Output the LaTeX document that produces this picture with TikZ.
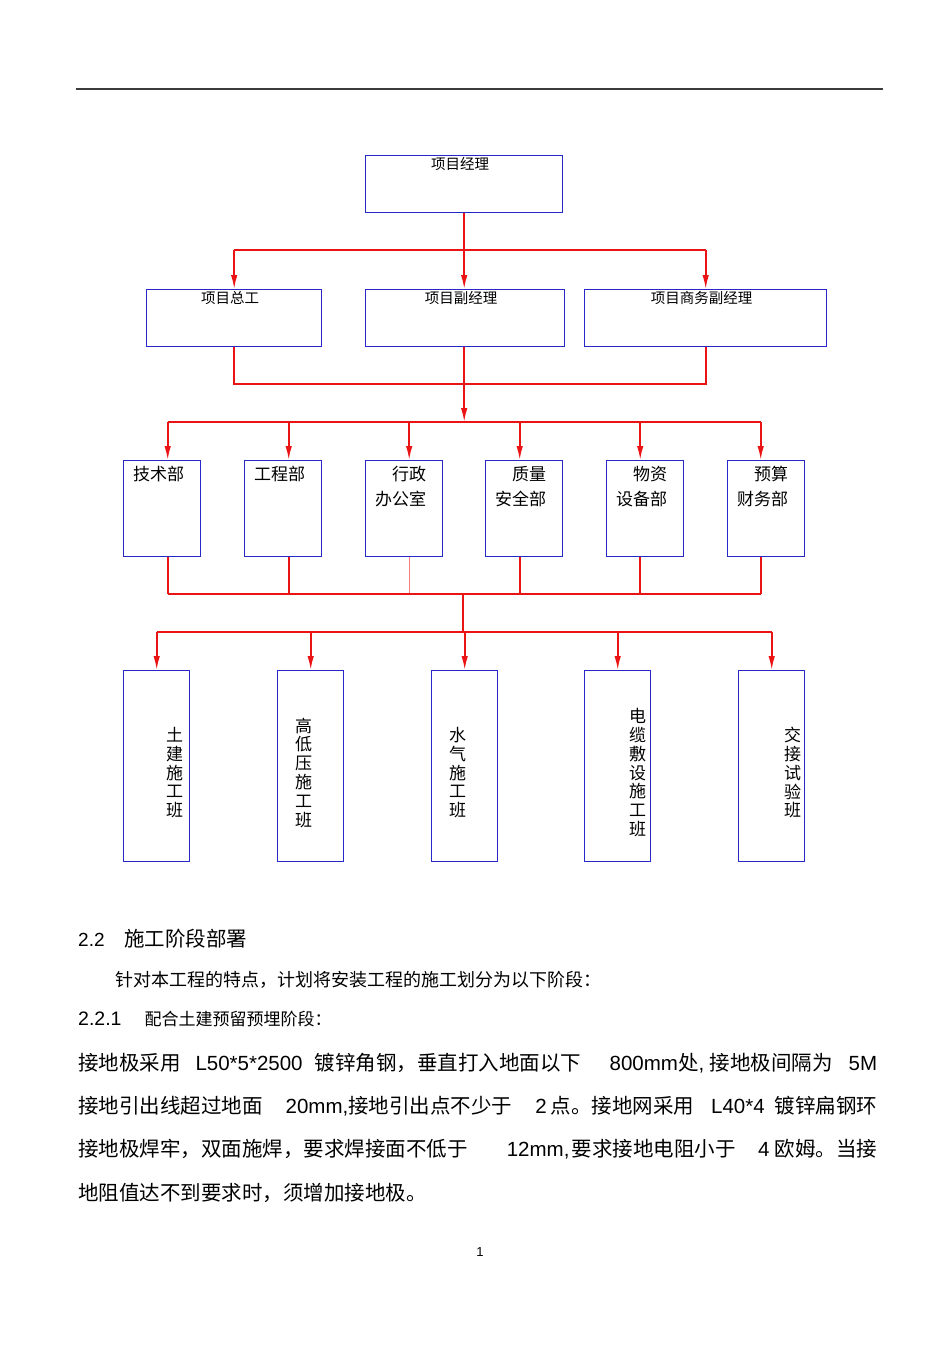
\documentclass[tikz,border=0pt]{standalone}
\usepackage{fontspec}
\setmainfont{Liberation Sans}
\newfontfamily\cjk{Noto Sans CJK SC}
\usetikzlibrary{arrows.meta}

\definecolor{boxblue}{RGB}{40,40,200}
\definecolor{linkred}{RGB}{235,20,20}
\definecolor{rulegray}{RGB}{60,60,60}

\newcommand\zh[1]{{\cjk #1}}

\tikzset{
  box/.style={draw=boxblue, line width=1.4pt, inner sep=0pt, anchor=north west},
  link/.style={draw=linkred, line width=1.7pt},
  thinlink/.style={draw=linkred!55, line width=1pt},
  arr/.style={link, -{Latex[length=14pt,width=6.5pt]}},
  tlbl/.style={font=\cjk\fontsize{14.5}{16}\selectfont, inner sep=0pt, anchor=north, xshift=-4pt, yshift=-2.5pt},
  dlbl/.style={font=\cjk\fontsize{17}{25}\selectfont, inner sep=0pt, align=left, anchor=north west, xshift=10pt, yshift=-6pt},
  vlbl/.style={font=\cjk\fontsize{17}{18.8}\selectfont, inner sep=0pt, align=center},
  body/.style={inner sep=0pt, anchor=base west, font=\fontsize{20.5}{24}\selectfont}
}

\begin{document}
\begin{tikzpicture}[x=1pt,y=-1pt]
  % 页面范围
  \useasboundingbox (0,0) rectangle (950,1345);

  % 绘制页眉横线
  \draw[rulegray, line width=1.2pt] (76,89) -- (883,89);

  % 第一层：项目经理
  \node[box, minimum width=197pt, minimum height=57pt, label={[tlbl, xshift=0pt]north:项目经理}] (pm) at (365,155) {};

  % 第二层
  \node[box, minimum width=175pt, minimum height=57pt, label={[tlbl]north:项目总工}] (zg) at (146,289) {};
  \node[box, minimum width=199pt, minimum height=57pt, label={[tlbl]north:项目副经理}] (fj) at (365,289) {};
  \node[box, minimum width=242pt, minimum height=57pt, label={[tlbl]north:项目商务副经理}] (sw) at (584,289) {};

  % 第三层：各部门
  \foreach \n/\x/\txt in {js/123/技术部, gc/244/工程部, xz/365/{　行政\\办公室},
                          zl/485/{　质量\\安全部}, wz/606/{　物资\\设备部}, ys/727/{　预算\\财务部}}
    \node[box, minimum width=77pt, minimum height=96pt, label={[dlbl]north west:{\txt}}] (\n) at (\x,460) {};

  % 第四层：各班组（竖排文字）
  \foreach \n/\x/\dx/\txt in {tj/123/18/{土\\建\\施\\工\\班}, gd/277/-7/{高\\低\\压\\施\\工\\班},
                              sq/431/-7/{水\\气\\施\\工\\班}, dl/584/20/{电\\缆\\敷\\设\\施\\工\\班},
                              jj/738/21/{交\\接\\试\\验\\班}}
    \node[box, minimum width=66pt, minimum height=191pt,
          label={[vlbl, xshift=\dx pt, yshift=-6.5pt]center:{\txt}}] (\n) at (\x,670) {};

  % 连线：第一层到第二层
  \coordinate (b1) at (463,250);
  \draw[link] (zg.north |- b1) -- (sw.north |- b1);
  \draw[arr] (pm.south) -- (pm.south |- fj.north);
  \draw[arr] (zg.north |- b1) -- (zg.north);
  \draw[arr] (sw.north |- b1) -- (sw.north);

  % 连线：第二层到第三层
  \coordinate (b2) at (463,384);
  \coordinate (b3) at (463,422);
  \draw[link] (zg.south) |- (b2) -| (sw.south);
  \draw[link] (pm.south |- fj.south) -- (pm.south |- b2);
  \draw[arr] (pm.south |- b2) -- (pm.south |- b3);
  \draw[link] ([xshift=5.5pt]js.north |- b3) -- ([xshift=-5.5pt]ys.north |- b3);
  \foreach \n/\dx in {js/5.5, gc/5.5, xz/5, zl/-4.5, wz/-5, ys/-5.5}
    \draw[arr] ([xshift=\dx pt]\n.north |- b3) -- ([xshift=\dx pt]\n.north);

  % 连线：第三层到第四层
  \coordinate (b4) at (463,594);
  \coordinate (b5) at (463,632);
  \foreach \n/\dx/\s in {js/5.5/link, gc/5.5/link, xz/5/thinlink, zl/-4.5/link, wz/-5/link, ys/-5.5/link}
    \draw[\s] ([xshift=\dx pt]\n.south) -- ([xshift=\dx pt]\n.south |- b4);
  \draw[link] ([xshift=5.5pt]js.south |- b4) -- ([xshift=-5.5pt]ys.south |- b4);
  \draw[link] (b4) -- (b5);
  \draw[link] (tj.north |- b5) -- (jj.north |- b5);
  \foreach \n in {tj, gd, sq, dl, jj}
    \draw[arr] (\n.north |- b5) -- (\n.north);

  % 正文
  \node[body] (h22) at (78,946) {{\fontsize{19}{19}\selectfont 2.2}\hspace{19.6pt}\zh{施工阶段部署}};
  \node[body, font=\fontsize{18}{20}\selectfont] (intro) at (115,986.5) {\zh{针对本工程的特点，计划将安装工程的施工划分为以下阶段：}};
  \node[body] (h221) at (78,1025.5) {{\fontsize{19.5}{20}\selectfont 2.2.1}\hspace{23pt}{\fontsize{17}{20}\selectfont\zh{配合土建预留预埋阶段：}}};
  \node[body] (p1) at (78,1070) {\makebox[799pt][l]{\zh{接地极采用}\hspace{\stretch{15}}L50*5*2500\hspace{\stretch{12}}\zh{镀锌角钢，垂直打入地面以下}\hspace{\stretch{29}}800mm\zh{处}, \zh{接地极间隔为}\hspace{\stretch{16}}5M}};
  \node[body] (p2) at (78,1113) {\makebox[799pt][l]{\zh{接地引出线超过地面}\hspace{\stretch{23}}20mm,\zh{接地引出点不少于}\hspace{\stretch{23}}2\hspace{\stretch{4}}\zh{点。接地网采用}\hspace{\stretch{17}}L40*4\hspace{\stretch{10}}\zh{镀锌扁钢环}}};
  \node[body] (p3) at (78,1156) {\makebox[799pt][l]{\zh{接地极焊牢，双面施焊，要求焊接面不低于}\hspace{\stretch{38}}12mm,\hspace{\stretch{2}}\zh{要求接地电阻小于}\hspace{\stretch{22}}4\hspace{\stretch{5}}\zh{欧姆。当接}}};
  \node[body] (p4) at (78,1200) {\zh{地阻值达不到要求时，须增加接地极。}};

  % 页码
  \node[inner sep=0pt, anchor=base, font=\fontsize{13}{15}\selectfont] (pg) at (480,1256) {1};
\end{tikzpicture}
\end{document}
